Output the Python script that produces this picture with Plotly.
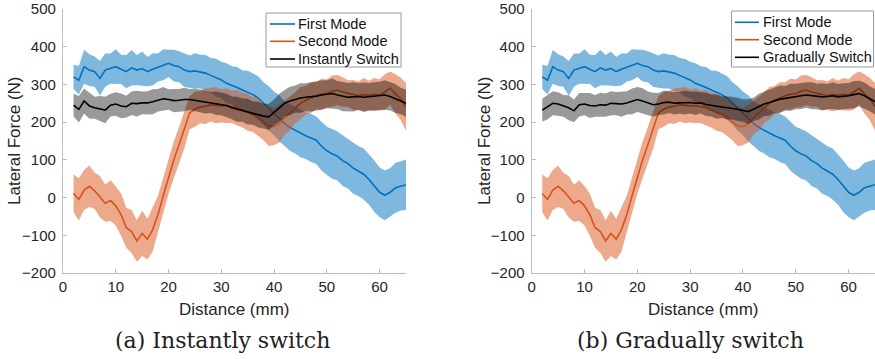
import plotly.graph_objects as go

# ---------------- data ----------------
distance_mm = list(range(2, 66))  # 2 .. 65 mm

first_mode_mean = [320, 311, 347, 338, 334, 316, 338, 342, 347, 340,
                   334, 344, 338, 342, 334, 340, 345, 352, 356, 350,
                   347, 338, 334, 336, 334, 330, 324, 318, 312, 303,
                   298, 292, 285, 280, 273, 264, 250, 236, 223, 210,
                   196, 186, 178, 170, 164, 158, 152, 136, 124, 116,
                   110, 98, 90, 78, 70, 62, 48, 30, 14, 6,
                   14, 26, 31, 34]
first_mode_std = [32, 38, 45, 42, 40, 46, 44, 40, 46, 39,
                  44, 47, 40, 45, 39, 43, 37, 41, 36, 42,
                  41, 45, 43, 47, 45, 48, 46, 50, 48, 53,
                  50, 54, 52, 56, 55, 58, 56, 59, 58, 61,
                  59, 62, 61, 63, 62, 64, 63, 65, 64, 66,
                  65, 67, 66, 68, 66, 68, 67, 68, 66, 66,
                  64, 66, 65, 67]

second_mode_mean = [11, -5, 20, 30, 18, 2, -15, -8, -22, -45,
                    -80, -90, -115, -95, -110, -85, -45, 5, 55, 100,
                    140, 180, 225, 234, 240, 242, 246, 245, 243, 244,
                    241, 238, 232, 226, 220, 214, 200, 190, 188, 196,
                    212, 224, 238, 250, 258, 265, 270, 274, 276, 282,
                    285, 280, 276, 272, 270, 273, 271, 274, 272, 280,
                    290, 275, 262, 241]
second_mode_std = [50, 56, 53, 55, 48, 55, 49, 54, 52, 56,
                   53, 57, 55, 60, 54, 58, 50, 48, 45, 49,
                   47, 50, 44, 46, 43, 47, 44, 48, 44, 46,
                   43, 47, 46, 49, 46, 51, 48, 53, 49, 50,
                   45, 46, 41, 43, 38, 41, 36, 41, 37, 42,
                   40, 39, 35, 40, 38, 44, 39, 43, 42, 47,
                   44, 52, 56, 63]

instant_mean = [245, 234, 256, 243, 238, 236, 232, 245, 248, 243,
                241, 250, 249, 251, 251, 254, 258, 262, 260, 257,
                258, 260, 260, 258, 256, 254, 252, 250, 248, 244,
                238, 234, 232, 228, 224, 220, 216, 214, 226, 238,
                250, 256, 261, 264, 266, 267, 269, 272, 274, 276,
                272, 268, 266, 267, 268, 266, 267, 268, 270, 272,
                268, 263, 256, 250]
instant_std = [30, 35, 33, 34, 29, 33, 35, 30, 31, 33,
               29, 31, 34, 30, 31, 33, 30, 31, 27, 31,
               30, 31, 28, 31, 30, 31, 28, 31, 30, 31,
               30, 33, 31, 34, 31, 34, 33, 35, 34, 37,
               35, 38, 36, 39, 37, 39, 38, 39, 37, 40,
               37, 39, 38, 39, 36, 39, 37, 38, 37, 39,
               37, 38, 35, 36]

gradual_mean = [232, 240, 250, 248, 243, 238, 230, 246, 248, 244,
                243, 246, 245, 250, 249, 248, 251, 255, 260, 256,
                250, 246, 248, 252, 253, 250, 251, 252, 252, 250,
                251, 247, 244, 241, 240, 238, 237, 234, 231, 228,
                234, 241, 248, 252, 257, 261, 263, 266, 268, 270,
                272, 270, 268, 267, 268, 270, 267, 268, 270, 273,
                276, 270, 262, 254]
gradual_std = [30, 33, 32, 31, 29, 33, 30, 31, 30, 33,
               29, 32, 31, 32, 31, 34, 31, 34, 33, 34,
               31, 32, 29, 32, 29, 30, 29, 32, 29, 31,
               28, 31, 29, 32, 29, 31, 30, 31, 30, 33,
               31, 34, 32, 35, 33, 36, 33, 36, 34, 35,
               34, 36, 34, 36, 33, 36, 34, 35, 34, 36,
               34, 35, 33, 34]

x_ticks = [0, 10, 20, 30, 40, 50, 60]
y_ticks = [-200, -100, 0, 100, 200, 300, 400, 500]
series_names_a = ["First Mode", "Second Mode", "Instantly Switch"]
series_names_b = ["First Mode", "Second Mode", "Gradually Switch"]

# ---------------- style ----------------
BLUE = "#0072BD"
ORANGE = "#D95319"
BLACK = "#000000"
FONT = "Liberation Sans"
TXT = "#262626"
AX = "#bdbdbd"
W, H = 875, 359


def px(x):
    return x / W


def py(y):
    return 1 - y / H


def band(x, mean, std, rgba, xa, ya):
    upper = [m + s for m, s in zip(mean, std)]
    lower = [m - s for m, s in zip(mean, std)]
    return go.Scatter(x=x + x[::-1], y=upper + lower[::-1], fill="toself",
                      fillcolor=rgba, line=dict(width=0), mode="lines",
                      hoverinfo="skip", showlegend=False, xaxis=xa, yaxis=ya)


def line(x, mean, color, name, xa, ya):
    return go.Scatter(x=x, y=mean, mode="lines", name=name,
                      line=dict(color=color, width=1.6), xaxis=xa, yaxis=ya,
                      showlegend=False)


fig = go.Figure()
panels = [("x", "y", instant_mean, instant_std, series_names_a),
          ("x2", "y2", gradual_mean, gradual_std, series_names_b)]
for xa, ya, bm, bs, names in panels:
    fig.add_trace(band(distance_mm, first_mode_mean, first_mode_std, "rgba(0,114,189,0.5)", xa, ya))
    fig.add_trace(line(distance_mm, first_mode_mean, BLUE, names[0], xa, ya))
    fig.add_trace(band(distance_mm, second_mode_mean, second_mode_std, "rgba(217,83,25,0.5)", xa, ya))
    fig.add_trace(line(distance_mm, second_mode_mean, ORANGE, names[1], xa, ya))
    fig.add_trace(band(distance_mm, bm, bs, "rgba(0,0,0,0.4)", xa, ya))
    fig.add_trace(line(distance_mm, bm, BLACK, names[2], xa, ya))

ydom = [86 / H, 350 / H]
axis_common = dict(showline=True, linecolor=AX, linewidth=1.2, ticks="inside",
                   ticklen=4, tickcolor=AX, tickwidth=1, showgrid=False,
                   zeroline=False, tickfont=dict(family=FONT, size=15, color=TXT))
fig.update_layout(
    width=W, height=H,
    margin=dict(l=0, r=0, t=0, b=0, autoexpand=False),
    paper_bgcolor="white", plot_bgcolor="white",
    showlegend=False,
    xaxis=dict(domain=[63 / W, 406 / W], range=[0, 65], tickvals=x_ticks,
               anchor="y", **axis_common),
    yaxis=dict(domain=ydom, range=[-200, 500], tickvals=y_ticks, anchor="x",
               ticklabelstandoff=3, **axis_common),
    xaxis2=dict(domain=[531.7 / W, 1.0], range=[0, 65], tickvals=x_ticks,
                anchor="y2", **axis_common),
    yaxis2=dict(domain=ydom, range=[-200, 500], tickvals=y_ticks, anchor="x2",
                ticklabelstandoff=3, **axis_common),
)

ann = []
shapes = []
for xc, txt in [(234.5, "Distance (mm)"), (703.5, "Distance (mm)")]:
    ann.append(dict(x=px(xc), y=py(309), xref="paper", yref="paper", text=txt,
                    showarrow=False, xanchor="center", yanchor="middle",
                    font=dict(family=FONT, size=17, color=TXT)))
for xc in [14, 484]:
    ann.append(dict(x=px(xc), y=py(141), xref="paper", yref="paper",
                    text="Lateral Force (N)", textangle=-90, showarrow=False,
                    xanchor="center", yanchor="middle",
                    font=dict(family=FONT, size=17, color=TXT)))
for xc, txt in [(222, "(a) Instantly switch"), (690, "(b) Gradually switch")]:
    ann.append(dict(x=px(xc), y=py(340), xref="paper", yref="paper", text=txt,
                    showarrow=False, xanchor="center", yanchor="middle",
                    font=dict(family="DejaVu Serif", size=22, color="#222222")))

# legends (box, sample line, label) for each panel
legend_boxes = [
    dict(box=(266, 13, 401, 67), line_x=(270, 295), text_x=296, rows=(24, 41.3, 59), names=series_names_a),
    dict(box=(731.5, 11, 873.5, 67), line_x=(735, 759), text_x=761, rows=(22.3, 39.7, 57.3), names=series_names_b),
]
for lg in legend_boxes:
    x0, y0, x1, y1 = lg["box"]
    shapes.append(dict(type="rect", xref="paper", yref="paper", layer="above",
                       x0=px(x0), x1=px(x1), y0=py(y1), y1=py(y0),
                       fillcolor="white", line=dict(color="#9a9a9a", width=1)))
    for row, name, col in zip(lg["rows"], lg["names"], [BLUE, ORANGE, BLACK]):
        shapes.append(dict(type="line", xref="paper", yref="paper", layer="above",
                           x0=px(lg["line_x"][0]), x1=px(lg["line_x"][1]),
                           y0=py(row), y1=py(row), line=dict(color=col, width=1.6)))
        ann.append(dict(x=px(lg["text_x"]), y=py(row), xref="paper", yref="paper",
                        text=name, showarrow=False, xanchor="left", yanchor="middle",
                        font=dict(family=FONT, size=14.5, color="#111111")))

fig.update_layout(annotations=ann, shapes=shapes)

fig.write_html("out.html", config={"displayModeBar": False},
               post_script="document.body.style.margin='0';")
